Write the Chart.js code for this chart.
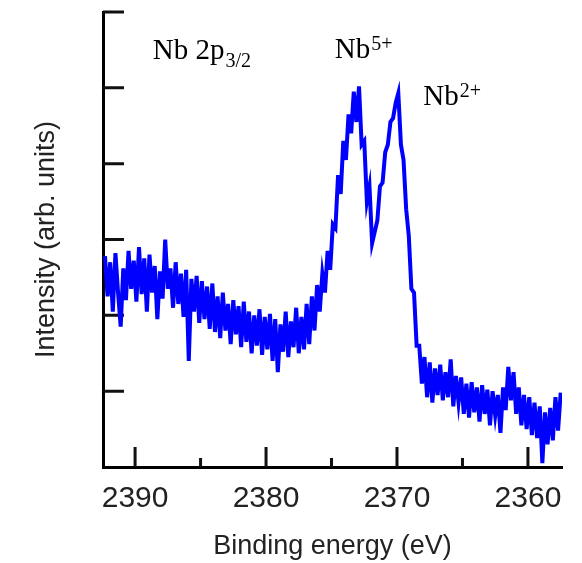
<!DOCTYPE html>
<html>
<head>
<meta charset="utf-8">
<script src="https://cdn.jsdelivr.net/npm/chart.js@4.4.1/dist/chart.umd.min.js"></script>
<style>
  body { margin: 0; background: #fff; }
  #wrap { width: 582px; height: 563px; }
</style>
</head>
<body>
<div id="wrap"><canvas id="xpsChart"></canvas></div>
<script>
// Nb 2p3/2 region, binding energy (eV) in 0.2 eV steps
const bindingEnergy = [
  2392.3, 2392.1, 2391.9, 2391.7, 2391.5, 2391.3, 2391.1, 2390.9, 2390.7, 2390.5,
  2390.3, 2390.1, 2389.9, 2389.7, 2389.5, 2389.3, 2389.1, 2388.9, 2388.7, 2388.5,
  2388.3, 2388.1, 2387.9, 2387.7, 2387.5, 2387.3, 2387.1, 2386.9, 2386.7, 2386.5,
  2386.3, 2386.1, 2385.9, 2385.7, 2385.5, 2385.3, 2385.1, 2384.9, 2384.7, 2384.5,
  2384.3, 2384.1, 2383.9, 2383.7, 2383.5, 2383.3, 2383.1, 2382.9, 2382.7, 2382.5,
  2382.3, 2382.1, 2381.9, 2381.7, 2381.5, 2381.3, 2381.1, 2380.9, 2380.7, 2380.5,
  2380.3, 2380.1, 2379.9, 2379.7, 2379.5, 2379.3, 2379.1, 2378.9, 2378.7, 2378.5,
  2378.3, 2378.1, 2377.9, 2377.7, 2377.5, 2377.3, 2377.1, 2376.9, 2376.7, 2376.5,
  2376.3, 2376.1, 2375.9, 2375.7, 2375.5, 2375.3, 2375.1, 2374.9, 2374.7, 2374.5,
  2374.3, 2374.1, 2373.9, 2373.7, 2373.5, 2373.3, 2373.1, 2372.9, 2372.7, 2372.5,
  2372.3, 2372.1, 2371.9, 2371.7, 2371.5, 2371.3, 2371.1, 2370.9, 2370.7, 2370.5,
  2370.3, 2370.1, 2369.9, 2369.7, 2369.5, 2369.3, 2369.1, 2368.9, 2368.7, 2368.5,
  2368.3, 2368.1, 2367.9, 2367.7, 2367.5, 2367.3, 2367.1, 2366.9, 2366.7, 2366.5,
  2366.3, 2366.1, 2365.9, 2365.7, 2365.5, 2365.3, 2365.1, 2364.9, 2364.7, 2364.5,
  2364.3, 2364.1, 2363.9, 2363.7, 2363.5, 2363.3, 2363.1, 2362.9, 2362.7, 2362.5,
  2362.3, 2362.1, 2361.9, 2361.7, 2361.5, 2361.3, 2361.1, 2360.9, 2360.7, 2360.5,
  2360.3, 2360.1, 2359.9, 2359.7, 2359.5, 2359.3, 2359.1, 2358.9, 2358.7, 2358.5,
  2358.3, 2358.1, 2357.9, 2357.7, 2357.5
];

// counts, arbitrary units
const intensity = [
  2.78, 2.25, 2.70, 2.05, 2.82, 2.30, 1.85, 2.62, 2.20, 2.85,
  2.35, 2.72, 2.18, 2.90, 2.28, 2.75, 2.05, 2.80, 2.30, 2.65,
  1.95, 2.58, 2.22, 3.00, 2.35, 2.62, 2.10, 2.70, 2.15, 2.55,
  1.98, 2.60, 1.40, 2.48, 2.05, 2.52, 1.90, 2.45, 1.95, 2.38,
  1.82, 2.42, 1.78, 2.25, 1.70, 2.30, 1.80, 2.15, 1.62, 2.20,
  1.75, 2.12, 1.58, 2.18, 1.65, 2.05, 1.50, 2.00, 1.60, 2.08,
  1.48, 1.98, 1.55, 2.02, 1.40, 1.95, 1.25, 1.88, 1.52, 2.05,
  1.45, 1.92, 1.58, 2.10, 1.50, 1.98, 1.55, 2.15, 1.62, 2.25,
  1.80, 2.40, 2.05, 2.55, 2.30, 2.85, 2.60, 3.20, 3.15, 3.85,
  3.60, 4.30, 4.05, 4.65, 4.40, 4.95, 4.55, 5.02, 4.25, 4.30,
  3.50, 3.70, 2.95, 3.10, 3.25, 3.70, 3.75, 4.15, 4.25, 4.55,
  4.60, 4.80, 4.93, 4.25, 4.05, 3.40, 3.05, 2.35, 2.30, 1.60,
  1.60, 1.10, 1.45, 0.92, 1.38, 0.85, 1.30, 0.95, 1.35, 0.88,
  1.25, 0.92, 1.42, 0.80, 1.20, 0.85, 1.18, 0.70, 1.10, 0.65,
  1.12, 0.72, 1.05, 0.60, 1.08, 0.70, 1.02, 0.55, 1.00, 0.68,
  0.95, 0.45, 1.05, 0.75, 1.32, 0.88, 1.25, 0.70, 1.05, 0.55,
  0.95, 0.50, 0.92, 0.42, 0.85, 0.38, 0.80, 0.05, 0.72, 0.30,
  0.78, 0.35, 0.92, 0.48, 0.98
];

const xTickValues = [2390, 2380, 2370, 2360];
const xMinorTicks = [2385, 2375, 2365];
const yTickValues = [1, 2, 3, 4, 5, 6];

// peak annotations: main text + sub/superscript, anchored in data units
const peakNames = ['Nb 2p', 'Nb', 'Nb'];
const peakScripts = ['3/2', '5+', '2+'];
const peakScriptKind = ['sub', 'sup', 'sup'];
const peakEnergy = [2388.65, 2374.75, 2368.0];
const peakLevel = [5.38, 5.40, 4.78];

// inward-pointing tick marks on both axes
const axisTicks = {
  id: 'axisTicks',
  beforeDatasetsDraw(chart) {
    const { ctx, chartArea, scales: { x, y } } = chart;
    ctx.save();
    ctx.strokeStyle = '#111';
    ctx.lineWidth = 3;
    ctx.beginPath();
    xTickValues.forEach(v => {
      const px = x.getPixelForValue(v);
      ctx.moveTo(px, chartArea.bottom);
      ctx.lineTo(px, chartArea.bottom - 20);
    });
    xMinorTicks.forEach(v => {
      const px = x.getPixelForValue(v);
      ctx.moveTo(px, chartArea.bottom);
      ctx.lineTo(px, chartArea.bottom - 9);
    });
    yTickValues.forEach(v => {
      const py = y.getPixelForValue(v);
      ctx.moveTo(chartArea.left, py);
      ctx.lineTo(chartArea.left + 21, py);
    });
    ctx.stroke();
    ctx.restore();
  }
};

const peakLabels = {
  id: 'peakLabels',
  afterDraw(chart) {
    const { ctx, scales: { x, y } } = chart;
    ctx.save();
    ctx.fillStyle = '#000';
    ctx.textBaseline = 'alphabetic';
    ctx.textAlign = 'left';
    peakNames.forEach((name, i) => {
      const px = x.getPixelForValue(peakEnergy[i]);
      const py = y.getPixelForValue(peakLevel[i]);
      ctx.font = '29px "Liberation Serif", "Times New Roman", serif';
      ctx.fillText(name, px, py);
      const w = ctx.measureText(name).width;
      ctx.font = '20px "Liberation Serif", "Times New Roman", serif';
      const shift = peakScriptKind[i] === 'sup' ? -8 : 8;
      ctx.fillText(peakScripts[i], px + w + 1, py + shift);
    });
    ctx.restore();
  }
};

const ctx = document.getElementById('xpsChart').getContext('2d');
new Chart(ctx, {
  type: 'line',
  data: {
    datasets: [{
      label: 'Nb 2p3/2',
      data: bindingEnergy.map((e, i) => ({ x: e, y: intensity[i] })),
      borderColor: '#0000ff',
      borderWidth: 4,
      pointRadius: 0,
      tension: 0,
      fill: false
    }]
  },
  options: {
    responsive: true,
    maintainAspectRatio: false,
    animation: false,
    layout: { padding: { top: 12, right: 20, left: 0, bottom: 0 } },
    plugins: {
      legend: { display: false },
      tooltip: { enabled: false }
    },
    scales: {
      x: {
        type: 'linear',
        reverse: true,
        min: 2357.4,
        max: 2392.45,
        afterBuildTicks: s => { s.ticks = xTickValues.map(v => ({ value: v })); },
        afterFit: s => { s.height = 96; },
        grid: { display: false },
        border: { display: true, color: '#000', width: 3 },
        ticks: {
          autoSkip: false,
          maxRotation: 0,
          padding: 6,
          color: '#222',
          callback: v => String(v),
          font: { family: '"Liberation Sans", Arial, sans-serif', size: 30 }
        },
        title: {
          display: true,
          text: 'Binding energy (eV)',
          color: '#222',
          padding: { top: 0, bottom: 0 },
          font: { family: '"Liberation Sans", Arial, sans-serif', size: 27 }
        }
      },
      y: {
        min: 0,
        max: 6,
        afterFit: s => { s.width = 103; },
        grid: { display: false },
        border: { display: true, color: '#000', width: 3 },
        ticks: { display: false },
        title: {
          display: true,
          text: 'Intensity (arb. units)',
          color: '#222',
          padding: { top: 30, bottom: 0 },
          font: { family: '"Liberation Sans", Arial, sans-serif', size: 27 }
        }
      }
    }
  },
  plugins: [axisTicks, peakLabels]
});
</script>
</body>
</html>
